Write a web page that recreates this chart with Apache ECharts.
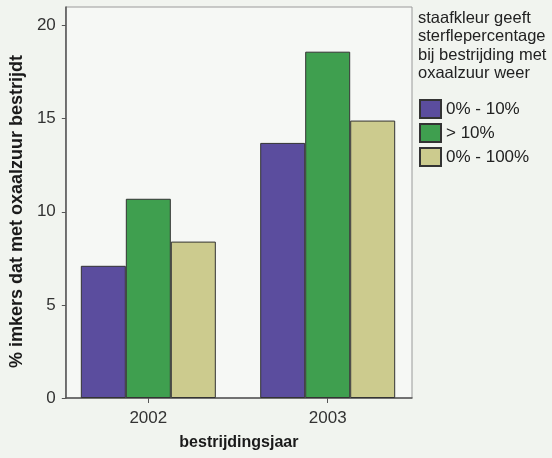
<!DOCTYPE html>
<html>
<head>
<meta charset="utf-8">
<script src="https://cdn.jsdelivr.net/npm/echarts@6/dist/echarts.min.js"></script>
<style>
html,body{margin:0;padding:0;background:#f1f4ef;}
#c{width:552px;height:458px;}
</style>
</head>
<body>
<div id="c"></div>
<script>
const years = [2002, 2003];
const seriesNames = ['0% - 10%', '> 10%', '0% - 100%'];
const lowValues = [7.1, 13.7];
const highValues = [10.7, 18.6];
const allValues = [8.4, 14.9];
const yTicks = [0, 5, 10, 15, 20];
const legendTitle = 'staafkleur geeft\nsterflepercentage\nbij bestrijding met\noxaalzuur weer';
const xName = 'bestrijdingsjaar';
const yName = '% imkers dat met oxaalzuur bestrijdt';
const colors = ['#5b4d9e', '#3f9f4f', '#cccb8e'];

const valueSets = [lowValues, highValues, allValues];
const FONT = '"Liberation Sans", Arial, sans-serif';

const chart = echarts.init(document.getElementById('c'), null, {renderer: 'canvas'});
chart.setOption({
  backgroundColor: '#f1f4ef',
  animation: false,
  textStyle: {fontFamily: FONT},
  title: {
    text: legendTitle,
    left: 413, top: 4,
    textStyle: {fontSize: 16.5, lineHeight: 18.5, fontWeight: 'normal', color: '#222', fontFamily: FONT}
  },
  legend: {
    orient: 'vertical',
    left: 414, top: 94,
    itemWidth: 21, itemHeight: 18, itemGap: 4,
    icon: 'rect',
    textStyle: {fontSize: 17, color: '#222', fontFamily: FONT},
    data: seriesNames
  },
  grid: {
    left: 63, right: 140, top: 7, bottom: 60,
    containLabel: false,
    show: true,
    backgroundColor: '#f6f8f5',
    borderColor: '#9a9a9a', borderWidth: 1
  },
  xAxis: {
    type: 'value',
    min: 2001.54, max: 2003.47,
    name: xName,
    nameLocation: 'middle',
    nameGap: 37,
    nameTextStyle: {fontSize: 16, fontWeight: 'bold', color: '#1a1a1a', fontFamily: FONT},
    axisLine: {show: true, lineStyle: {color: '#555', width: 1.5}},
    axisTick: {show: true, length: 5, lineStyle: {color: '#555'}, customValues: years},
    axisLabel: {fontSize: 17, color: '#333', margin: 12, customValues: years, formatter: v => String(v), fontFamily: FONT},
    splitLine: {show: false}
  },
  yAxis: {
    type: 'value',
    min: 0, max: 21,
    name: yName,
    nameLocation: 'middle',
    nameGap: 31,
    nameTextStyle: {fontSize: 18, fontWeight: 'bold', color: '#1a1a1a', fontFamily: FONT, padding: [0, 18, 0, 0]},
    axisLine: {show: true, lineStyle: {color: '#555', width: 1.5}},
    axisTick: {show: true, length: 4, lineStyle: {color: '#555'}, customValues: yTicks},
    axisLabel: {fontSize: 17, color: '#333', margin: 10, customValues: yTicks, fontFamily: FONT},
    splitLine: {show: false}
  },
  series: seriesNames.map((name, i) => ({
    name: name,
    type: 'bar',
    barWidth: 45,
    barGap: '0%',
    itemStyle: {color: colors[i], borderColor: '#333', borderWidth: 1},
    data: years.map((y, j) => [y, valueSets[i][j]])
  }))
});
</script>
</body>
</html>
